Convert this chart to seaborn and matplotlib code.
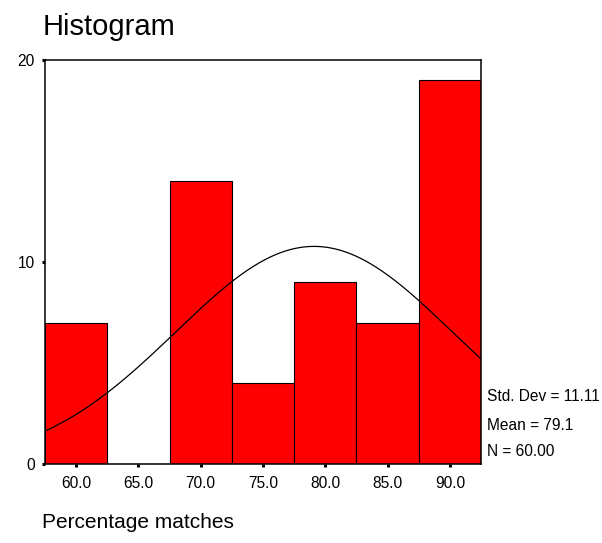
import numpy as np
import pandas as pd
import seaborn as sns

from matplotlib import pyplot as plt

# bin centres and counts
BIN_CENTRES = [60.0, 65.0, 70.0, 75.0, 80.0, 85.0, 90.0]
COUNTS = [7, 0, 14, 4, 9, 7, 19]
BIN_WIDTH = 5.0

# summary statistics printed beside the plot
STD_DEV = 11.11
MEAN = 79.1
N = 60

Y_TICKS = [0, 10, 20]
TITLE = 'Histogram'
X_LABEL = 'Percentage matches'


def main():
    sns.set_theme(style='white')
    plt.rcParams['font.family'] = ['Liberation Sans', 'DejaVu Sans']
    plt.rcParams['text.color'] = 'black'

    df = pd.DataFrame({'centre': BIN_CENTRES, 'count': COUNTS})
    edges = [c - BIN_WIDTH / 2 for c in BIN_CENTRES] + [BIN_CENTRES[-1] + BIN_WIDTH / 2]

    fig = plt.figure(figsize=(6.02, 5.43), dpi=100)
    ax = fig.add_axes([0.0748, 0.1455, 0.7242, 0.744])

    sns.histplot(data=df, x='centre', weights='count', bins=edges,
                 color='#ff0000', edgecolor='black', linewidth=0.8,
                 alpha=1, ax=ax)

    # fitted normal curve scaled to counts per bin
    xs = np.linspace(edges[0], edges[-1], 200)
    ys = N * BIN_WIDTH / (STD_DEV * np.sqrt(2 * np.pi)) * np.exp(-0.5 * ((xs - MEAN) / STD_DEV) ** 2)
    sns.lineplot(x=xs, y=ys, color='black', linewidth=0.9, ax=ax)

    ax.set_xlim(edges[0], edges[-1])
    ax.set_ylim(0, 20)
    ax.set_xticks(BIN_CENTRES)
    ax.set_xticklabels([f'{c:.1f}' for c in BIN_CENTRES])
    ax.set_yticks(Y_TICKS)
    ax.set_xlabel('')
    ax.set_ylabel('')
    ax.tick_params(axis='both', direction='out', length=2.5, width=2.2,
                   color='black', labelsize=11.2, labelcolor='black', pad=5)
    ax.tick_params(axis='x', bottom=True, pad=6)
    ax.tick_params(axis='y', left=True)
    for spine in ax.spines.values():
        spine.set_color('black')
        spine.set_linewidth(1.1)

    fig.text(0.07, 0.95, TITLE, fontsize=21, ha='left', va='center', color='black')
    fig.text(0.07, 0.037, X_LABEL, fontsize=15, ha='left', va='center', color='black')

    fig.text(0.809, 0.269, f'Std. Dev = {STD_DEV:.2f}', fontsize=11.2, ha='left', va='center')
    fig.text(0.809, 0.217, f'Mean = {MEAN:.1f}', fontsize=11.2, ha='left', va='center')
    fig.text(0.809, 0.168, f'N = {N:.2f}', fontsize=11.2, ha='left', va='center')

    fig.savefig('out.png', dpi=100, facecolor='white')


if __name__ == '__main__':
    main()
